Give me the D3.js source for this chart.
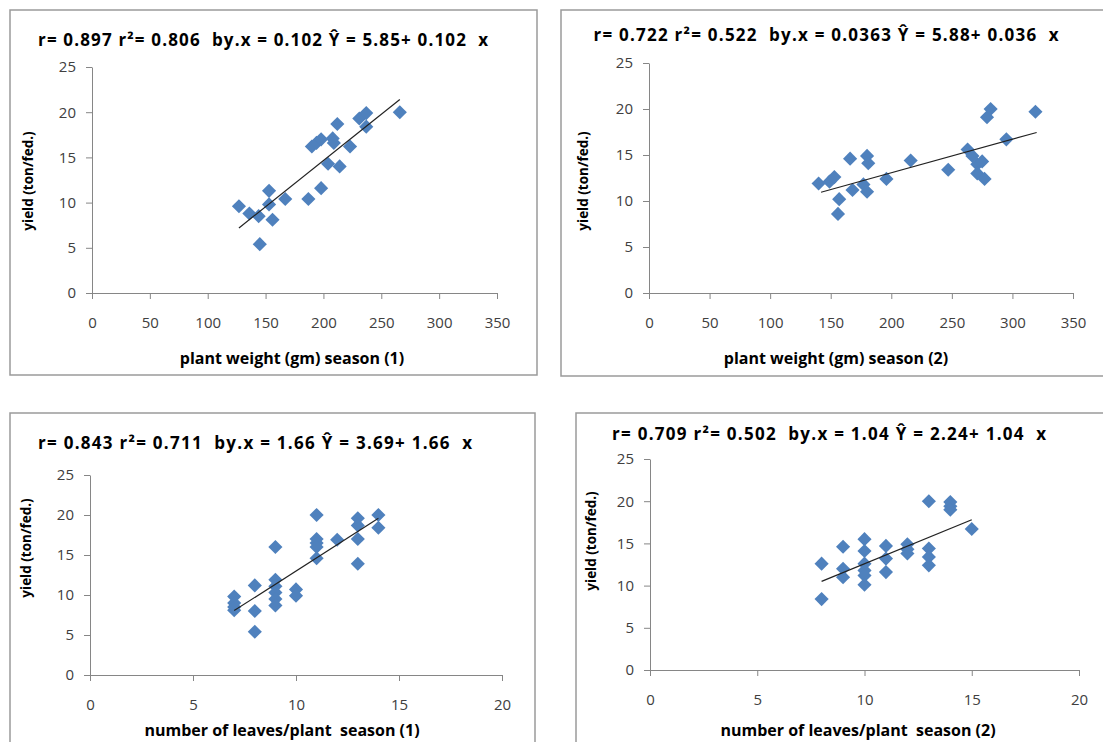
<!DOCTYPE html>
<head>
<meta charset="UTF-8">
<title>yield vs plant weight and leaves</title>
<script src="https://cdnjs.cloudflare.com/ajax/libs/d3/7.8.5/d3.min.js"></script>
<style>
body{margin:0;background:#fff;}
text{font-family:"Open Sans",Lato,sans-serif;}
.tick text{font-size:15px;fill:#404040;}
.domain,.tick line{stroke:#868686;}
.title{font-size:17px;font-weight:bold;fill:#000;white-space:pre;}
.xtitle{font-size:16px;font-weight:bold;fill:#000;white-space:pre;}
.ytitle{font-size:13.5px;font-weight:bold;fill:#000;}
</style>
</head>
<body>
<div id="chart"></div>
<script>
// values
var weightTicks=[0,50,100,150,200,250,300,350];
var leafTicks=[0,5,10,15,20];
var yieldTicks=[0,5,10,15,20,25];

var weight1=[127,136,144,145,153,153,156,167,187,190,194,198,198,208,209,204,212,214,223,231,237,237,266];
var yield1=[9.6,8.8,8.5,5.4,11.3,9.8,8.1,10.4,10.4,16.2,16.6,11.6,17.0,17.1,16.6,14.3,18.7,14.0,16.2,19.3,19.9,18.4,20.0];
var trend1=[[127,7.2],[266,21.4]];

var weight2=[140,149,153,157,156,166,168,180,181,177,180,196,216,247,263,267,271,275,271,277,279,282,295,319];
var yield2=[11.9,12.1,12.6,10.2,8.6,14.6,11.2,14.9,14.1,11.8,11.0,12.4,14.4,13.4,15.6,14.9,14.0,14.3,13.0,12.4,19.1,20.0,16.7,19.7];
var trend2=[[142,10.95],[320,17.45]];

var leaves1=[7,7,7,7,8,8,8,9,9,9,9,9,9,10,10,11,11,11,11,11,12,13,13,13,13,14,14];
var yieldL1=[9.8,9.0,8.5,8.1,11.2,8.0,5.4,16.0,11.9,11.1,10.3,9.5,8.7,10.7,9.9,20.0,17.0,16.5,16.0,14.6,16.9,19.6,18.7,17.0,13.9,20.0,18.4];
var trend3=[[7,8.05],[14,19.6]];

var leaves2=[8,8,9,9,9,10,10,10,10,10,10,11,11,11,12,12,12,13,13,13,13,14,14,14,15];
var yieldL2=[12.6,8.4,14.6,12.0,11.0,15.5,14.1,12.6,11.8,11.2,10.1,14.7,13.2,11.6,14.9,14.3,13.8,20.0,14.4,13.4,12.4,19.9,19.4,19.0,16.7];
var trend4=[[8,10.5],[15,17.8]];

var titles=["r= 0.897 r\u00b2= 0.806  by.x = 0.102 \u0176 = 5.85+ 0.102  x",
            "r= 0.722 r\u00b2= 0.522  by.x = 0.0363 \u0176 = 5.88+ 0.036  x",
            "r= 0.843 r\u00b2= 0.711  by.x = 1.66 \u0176 = 3.69+ 1.66  x",
            "r= 0.709 r\u00b2= 0.502  by.x = 1.04 \u0176 = 2.24+ 1.04  x"];
var xTitles=["plant weight (gm) season (1)","plant weight (gm) season (2)",
             "number of leaves/plant  season (1)","number of leaves/plant  season (2)"];
var yTitle="yield (ton/fed.)";

var width=1103, height=742;
var svg=d3.select("#chart").append("svg").attr("width",width).attr("height",height);

// layout of each panel (frame, axis ranges, text spots)
var panels=[
 {bx:10,by:10,bw:527,bh:365,x0:92,x1:497,y0:293,y1:67,tx:263,ty:46,tw:450,axy:364,axx:292,yx:33,yy:181,
  xs:weight1,ys:yield1,tr:trend1,xt:weightTicks,xmax:350},
 {bx:561,by:10,bw:560,bh:366,x0:649,x1:1073,y0:293,y1:63,tx:826,ty:41,tw:465,axy:364,axx:836,yx:588,yy:181,
  xs:weight2,ys:yield2,tr:trend2,xt:weightTicks,xmax:350},
 {bx:10,by:413,bw:525,bh:340,x0:90,x1:502,y0:675,y1:475,tx:255,ty:449,tw:434,axy:736,axx:282,yx:31,yy:548,
  xs:leaves1,ys:yieldL1,tr:trend3,xt:leafTicks,xmax:20},
 {bx:576,by:413,bw:540,bh:340,x0:650,x1:1079,y0:670,y1:459,tx:829,ty:440,tw:434,axy:736,axx:858,yx:596,yy:541,
  xs:leaves2,ys:yieldL2,tr:trend4,xt:leafTicks,xmax:20}
];

var diamond=d3.symbol().type(d3.symbolSquare).size(100);

panels.forEach(function(p,i){
  var g=svg.append("g");
  g.append("rect").attr("x",p.bx).attr("y",p.by).attr("width",p.bw).attr("height",p.bh)
    .attr("fill","#fff").attr("stroke","#9a9a9a").attr("stroke-width",1.5);

  var x=d3.scaleLinear().domain([0,p.xmax]).range([p.x0,p.x1]);
  var y=d3.scaleLinear().domain([0,25]).range([p.y0,p.y1]);

  g.append("g").attr("transform","translate(0,"+p.y0+")")
    .call(d3.axisBottom(x).tickValues(p.xt).tickSize(6).tickPadding(18).tickSizeOuter(6));
  g.append("g").attr("transform","translate("+p.x0+",0)")
    .call(d3.axisLeft(y).tickValues(yieldTicks).tickSize(6).tickPadding(10).tickSizeOuter(0));

  var pts=p.xs.map(function(v,k){return [v,p.ys[k]];});
  g.selectAll(".pt").data(pts).enter().append("path")
    .attr("d",diamond)
    .attr("transform",function(d){return "translate("+x(d[0])+","+y(d[1])+") rotate(45)";})
    .attr("fill","#4f81bd");

  g.append("line")
    .attr("x1",x(p.tr[0][0])).attr("y1",y(p.tr[0][1]))
    .attr("x2",x(p.tr[1][0])).attr("y2",y(p.tr[1][1]))
    .attr("stroke","#222").attr("stroke-width",1.2);

  g.append("text").attr("class","title").attr("x",p.tx).attr("y",p.ty)
    .attr("text-anchor","middle").attr("textLength",p.tw).attr("lengthAdjust","spacing")
    .text(titles[i]);
  g.append("text").attr("class","xtitle").attr("x",p.axx).attr("y",p.axy)
    .attr("text-anchor","middle").text(xTitles[i]);
  g.append("text").attr("class","ytitle")
    .attr("transform","translate("+p.yx+","+p.yy+") rotate(-90)")
    .attr("text-anchor","middle").text(yTitle);
});
</script>
</body>
</html>
